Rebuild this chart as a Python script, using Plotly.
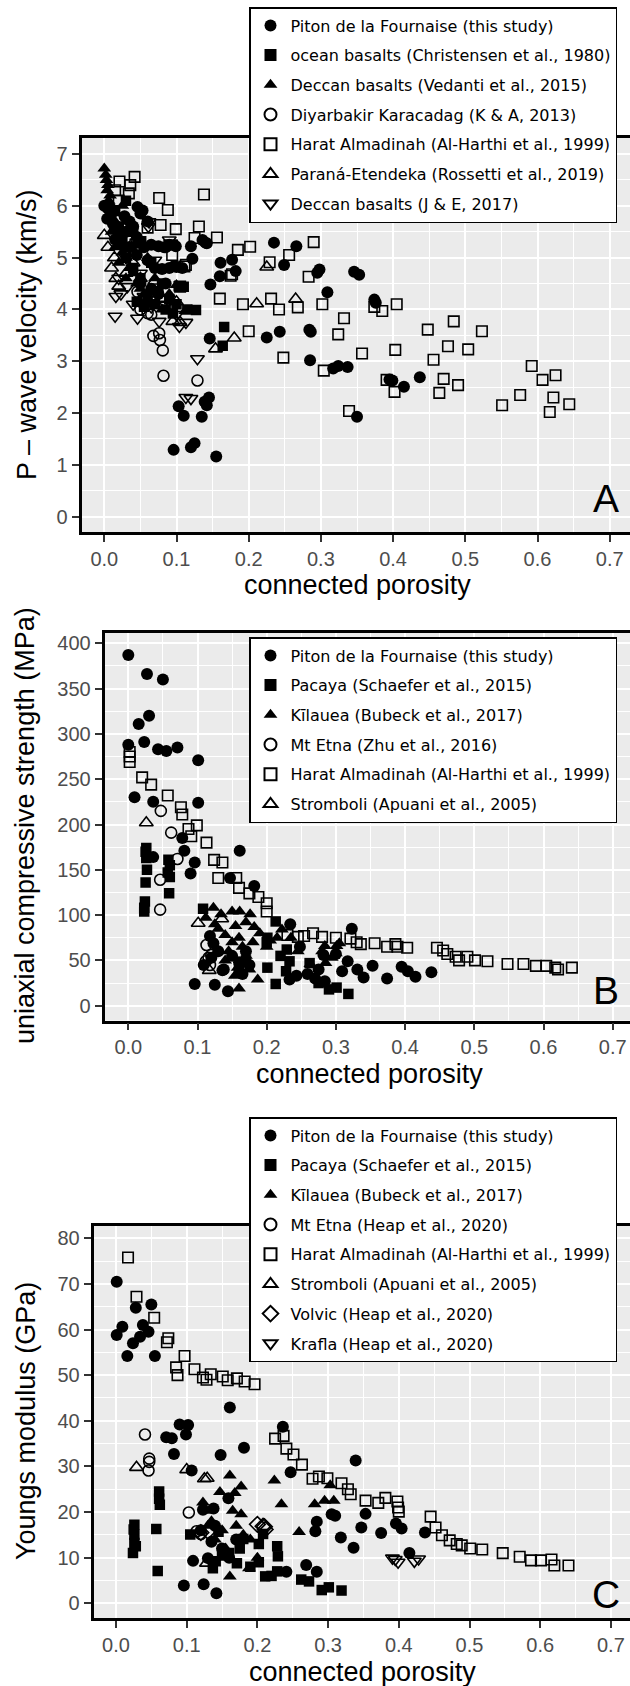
import plotly.graph_objects as go

W, H = 630, 1686

# ---------------- Panel A : P-wave velocity ----------------
A_PITON_X = [0.235, 0.266, 0.249, 0.142, 0.136, 0.140, 0.120, 0.099, 0.122, 0.161, 0.177, 0.182, 0.160, 0.147, 0.298,
             0.295, 0.346, 0.353, 0.309, 0.374, 0.376, 0.284, 0.286, 0.243, 0.225, 0.146, 0.285, 0.317, 0.324, 0.337,
             0.395, 0.399, 0.415, 0.437, 0.350, 0.103, 0.110, 0.135, 0.139, 0.145, 0.142, 0.096, 0.120, 0.125, 0.155,
             0.053, 0.046, 0.050, 0.060, 0.000, 0.005, 0.010, 0.004, 0.012, 0.020, 0.028, 0.035, 0.030, 0.040, 0.045,
             0.015, 0.025, 0.035, 0.055, 0.065, 0.075, 0.085, 0.090, 0.083, 0.070, 0.080, 0.090, 0.100, 0.060, 0.045,
             0.097, 0.108, 0.050, 0.065, 0.075, 0.085]
A_PITON_Y = [5.29, 5.22, 4.86, 5.28, 5.34, 5.29, 5.22, 5.22, 4.98, 4.90, 4.96, 4.74, 4.64, 4.48, 4.77,
             4.71, 4.73, 4.67, 4.33, 4.19, 4.13, 3.61, 3.57, 3.57, 3.46, 3.44, 3.02, 2.86, 2.91, 2.89,
             2.65, 2.63, 2.51, 2.69, 1.93, 2.13, 1.95, 1.93, 2.22, 2.30, 2.15, 1.29, 1.34, 1.42, 1.16,
             5.91, 5.98, 5.85, 5.70, 6.00, 5.95, 5.85, 5.75, 5.65, 5.55, 5.80, 5.70, 5.50, 5.60, 5.40,
             5.35, 5.25, 5.20, 5.20, 5.25, 5.22, 5.20, 5.25, 5.20, 4.80, 4.78, 4.80, 4.82, 4.95, 5.05,
             4.84, 4.80, 4.50, 4.40, 4.30, 4.50]

A_OCEAN_X = [0.166, 0.164, 0.127, 0.103, 0.110, 0.095, 0.085, 0.070, 0.060, 0.075, 0.090, 0.100, 0.115, 0.050,
             0.040, 0.030, 0.020, 0.025, 0.015, 0.030, 0.040, 0.050, 0.065, 0.080, 0.055, 0.045]
A_OCEAN_Y = [3.66, 3.30, 3.99, 4.45, 4.44, 3.92, 4.00, 4.10, 4.20, 4.35, 4.20, 4.10, 4.00, 4.60,
             4.80, 5.00, 5.60, 5.40, 5.90, 6.10, 5.50, 5.30, 4.90, 4.50, 4.05, 4.15]

A_DECCAN_V_X = [0.000, 0.002, 0.003, 0.005, 0.004, 0.008, 0.006, 0.010, 0.012, 0.008, 0.015, 0.018, 0.010, 0.020,
                0.022, 0.015, 0.025, 0.030, 0.020, 0.035, 0.040, 0.030, 0.045, 0.050, 0.055, 0.060, 0.070, 0.080,
                0.100, 0.112, 0.045, 0.060, 0.070, 0.090, 0.025, 0.030]
A_DECCAN_V_Y = [6.72, 6.60, 6.50, 6.40, 6.30, 6.20, 6.10, 6.00, 5.90, 5.80, 5.70, 5.60, 5.50, 5.45,
                5.30, 5.20, 5.10, 5.00, 4.90, 4.80, 4.70, 4.60, 4.50, 4.40, 4.30, 4.20, 4.10, 4.00,
                4.47, 3.97, 5.30, 5.00, 4.60, 4.30, 6.00, 5.70]

A_DIYAR_X = [0.068, 0.076, 0.077, 0.081, 0.082, 0.129, 0.060, 0.046, 0.055, 0.065, 0.050]
A_DIYAR_Y = [3.49, 3.54, 3.41, 3.21, 2.72, 2.63, 3.93, 4.34, 4.10, 3.90, 4.00]

A_HARAT_X = [0.021, 0.036, 0.042, 0.034, 0.076, 0.088, 0.138, 0.078, 0.099, 0.131,
             0.125, 0.156, 0.185, 0.202, 0.229, 0.256, 0.290, 0.094, 0.111, 0.177,
             0.160, 0.192, 0.231, 0.242, 0.268, 0.302, 0.283, 0.200, 0.248, 0.304,
             0.324, 0.332, 0.357, 0.374, 0.385, 0.405, 0.403, 0.391, 0.402, 0.339,
             0.448, 0.456, 0.476, 0.484, 0.504, 0.523, 0.470, 0.464, 0.490, 0.551,
             0.576, 0.592, 0.607, 0.625, 0.622, 0.617, 0.644, 0.060, 0.175, 0.113,
             0.105, 0.015, 0.020, 0.050]
A_HARAT_Y = [6.47, 6.40, 6.56, 6.24, 6.15, 5.92, 6.22, 5.63, 5.55, 5.60,
             5.38, 5.39, 5.15, 5.21, 4.91, 5.05, 5.30, 5.05, 4.83, 4.68,
             4.21, 4.10, 4.21, 4.00, 4.04, 4.10, 4.63, 3.58, 3.07, 2.82,
             3.52, 3.83, 3.15, 4.05, 3.97, 4.10, 3.22, 2.64, 2.41, 2.04,
             3.61, 3.03, 3.29, 3.77, 3.23, 3.58, 2.66, 2.39, 2.54, 2.15,
             2.35, 2.91, 2.64, 2.73, 2.30, 2.02, 2.17, 5.58, 4.65, 4.86,
             4.44, 6.30, 6.10, 5.30]

A_PARANA_X = [0.225, 0.211, 0.265, 0.180, 0.154, 0.000, 0.016, 0.014, 0.010, 0.020, 0.030, 0.040, 0.005, 0.050,
              0.095, 0.105, 0.060, 0.070, 0.035, 0.080, 0.100]
A_PARANA_Y = [4.82, 4.11, 4.20, 3.45, 3.24, 5.43, 4.60, 5.00, 4.80, 4.45, 4.70, 4.90, 5.20, 4.60,
              3.77, 3.75, 4.30, 4.55, 5.20, 4.20, 4.15]

A_DECCAN_JE_X = [0.016, 0.023, 0.015, 0.046, 0.032, 0.076, 0.104, 0.113, 0.129, 0.113, 0.120, 0.062, 0.061,
                 0.090, 0.092, 0.040, 0.055, 0.065, 0.085, 0.030, 0.050, 0.070, 0.095, 0.100, 0.020, 0.045]
A_DECCAN_JE_Y = [4.25, 4.30, 3.87, 3.83, 4.44, 3.77, 3.67, 3.75, 3.05, 2.30, 2.28, 5.69, 5.60,
                 5.34, 5.28, 4.10, 4.25, 4.05, 4.10, 5.00, 4.70, 4.95, 4.05, 3.90, 4.60, 5.30]

# ---------------- Panel B : UCS ----------------
B_PITON_X = [0.000, 0.027, 0.050, 0.030, 0.015, 0.000, 0.023, 0.043, 0.055, 0.071,
             0.101, 0.009, 0.036, 0.101, 0.078, 0.081, 0.036, 0.096, 0.090, 0.161,
             0.147, 0.182, 0.234, 0.248, 0.243, 0.233, 0.284, 0.282, 0.300, 0.317,
             0.309, 0.323, 0.331, 0.340, 0.353, 0.374, 0.395, 0.404, 0.415, 0.438,
             0.259, 0.096, 0.125, 0.144, 0.109, 0.118, 0.138, 0.123, 0.136, 0.130,
             0.150, 0.160, 0.170, 0.165, 0.175, 0.270, 0.275, 0.120]
B_PITON_Y = [387, 366, 360, 320, 311, 288, 291, 283, 281, 285,
             271, 230, 225, 224, 185, 171, 164, 158, 146, 171,
             141, 132, 90, 65, 33, 29, 27, 56, 57, 49,
             38, 85, 40, 31, 44, 30, 43, 38, 32, 37,
             35, 24, 23, 16, 45, 77, 40, 69, 39, 60,
             55, 48, 60, 35, 45, 30, 40, 53]

B_PACAYA_X = [0.026, 0.025, 0.026, 0.027, 0.025, 0.024, 0.023, 0.023, 0.058, 0.060, 0.057, 0.060, 0.059, 0.108,
              0.213, 0.201, 0.229, 0.233, 0.228, 0.201, 0.213, 0.262, 0.290, 0.301, 0.318, 0.200, 0.170, 0.160,
              0.220, 0.275]
B_PACAYA_Y = [174, 170, 163, 150, 136, 115, 108, 104, 161, 155, 147, 142, 124, 107,
              93, 75, 62, 49, 38, 42, 24, 47, 18, 20, 13, 70, 50, 40,
              55, 25]

B_KILAUEA_X = [0.123, 0.112, 0.134, 0.150, 0.161, 0.176, 0.170, 0.182, 0.222, 0.215,
               0.158, 0.154, 0.160, 0.187, 0.263, 0.284, 0.301, 0.305, 0.294, 0.285,
               0.130, 0.140, 0.150, 0.145, 0.160, 0.165, 0.170, 0.180, 0.175, 0.200,
               0.190, 0.140, 0.125, 0.155, 0.205, 0.235, 0.245, 0.280, 0.300]
B_KILAUEA_Y = [108, 97, 101, 104, 104, 101, 92, 87, 84, 75,
               42, 33, 19, 29, 46, 66, 66, 69, 53, 47,
               85, 78, 70, 60, 75, 65, 55, 70, 40, 65,
               80, 50, 90, 88, 72, 75, 60, 60, 58]

B_ETNA_X = [0.047, 0.062, 0.071, 0.046, 0.046, 0.113, 0.116, 0.118, 0.112, 0.120]
B_ETNA_Y = [215, 191, 162, 139, 106, 67, 53, 45, 49, 56]

B_HARAT_X = [0.002, 0.002, 0.002, 0.020, 0.033, 0.057, 0.076, 0.078, 0.087, 0.091,
             0.099, 0.113, 0.124, 0.136, 0.130, 0.156, 0.160, 0.175, 0.188, 0.200,
             0.200, 0.230, 0.245, 0.254, 0.267, 0.280, 0.300, 0.321, 0.330, 0.336,
             0.356, 0.374, 0.386, 0.389, 0.403, 0.446, 0.455, 0.461, 0.473, 0.478,
             0.490, 0.501, 0.519, 0.548, 0.571, 0.589, 0.604, 0.617, 0.621, 0.641]
B_HARAT_Y = [280, 275, 269, 252, 244, 232, 219, 211, 195, 187,
             199, 180, 161, 158, 141, 141, 130, 124, 120, 113,
             104, 78, 76, 77, 80, 76, 75, 74, 70, 68,
             69, 65, 68, 65, 64, 64, 61, 57, 54, 50,
             54, 50, 49, 46, 46, 44, 44, 42, 40, 42]

B_STROMBOLI_X = [0.026, 0.101, 0.135, 0.117]
B_STROMBOLI_Y = [202, 91, 96, 39]

# ---------------- Panel C : Young's modulus ----------------
C_PITON_X = [0.001, 0.009, 0.001, 0.028, 0.050, 0.038, 0.046, 0.034, 0.024, 0.016,
             0.055, 0.161, 0.090, 0.102, 0.099, 0.071, 0.079, 0.181, 0.148, 0.082,
             0.107, 0.236, 0.247, 0.138, 0.123, 0.159, 0.109, 0.096, 0.124, 0.142,
             0.130, 0.269, 0.284, 0.241, 0.284, 0.282, 0.305, 0.310, 0.318, 0.336,
             0.339, 0.347, 0.353, 0.375, 0.396, 0.404, 0.415, 0.437, 0.135, 0.150,
             0.140, 0.160, 0.170, 0.120]
C_PITON_Y = [70.5, 60.6, 58.8, 64.8, 65.5, 61.0, 59.5, 58.4, 57.0, 54.2,
             54.2, 42.9, 39.2, 39.1, 37.0, 36.4, 36.2, 34.1, 32.5, 32.7,
             29.1, 38.7, 28.7, 20.8, 20.5, 23.0, 9.3, 3.9, 4.2, 2.2,
             9.9, 8.4, 6.9, 6.9, 17.9, 15.8, 19.5, 19.2, 14.4, 12.2,
             31.3, 16.6, 19.6, 15.4, 17.5, 16.4, 11.0, 15.5, 13.5, 12.0,
             17.0, 10.0, 14.0, 16.0]

C_PACAYA_X = [0.026, 0.026, 0.026, 0.028, 0.024, 0.025, 0.061, 0.061, 0.062, 0.057,
              0.059, 0.105, 0.141, 0.137, 0.171, 0.180, 0.202, 0.202, 0.211, 0.228,
              0.229, 0.228, 0.262, 0.273, 0.291, 0.301, 0.319, 0.208, 0.145, 0.160,
              0.175, 0.220, 0.150, 0.190]
C_PACAYA_Y = [17.2, 15.0, 13.2, 12.5, 11.0, 16.2, 24.5, 22.9, 21.6, 16.3,
              7.1, 15.1, 9.2, 7.7, 8.8, 14.1, 13.0, 9.0, 5.9, 12.5,
              10.3, 7.0, 5.2, 4.8, 2.9, 3.5, 2.8, 15.2, 15.7, 11.0,
              12.0, 6.0, 10.5, 8.0]

C_KILAUEA_X = [0.161, 0.177, 0.147, 0.168, 0.224, 0.234, 0.123, 0.281, 0.295, 0.308, 0.303, 0.259, 0.161,
               0.188, 0.165, 0.177, 0.128, 0.135, 0.150, 0.170, 0.180, 0.190, 0.140, 0.200, 0.155, 0.130]
C_KILAUEA_Y = [28.0, 25.6, 24.4, 24.2, 26.9, 21.7, 22.1, 21.7, 22.5, 22.5, 25.9, 15.6, 5.9,
               7.7, 20.3, 19.5, 20.3, 18.0, 16.0, 17.0, 15.0, 14.0, 14.0, 10.0, 12.0, 17.0]

C_ETNA_X = [0.041, 0.047, 0.047, 0.046, 0.103, 0.114, 0.120]
C_ETNA_Y = [37.0, 31.7, 31.0, 29.1, 19.9, 15.8, 15.2]

C_HARAT_X = [0.017, 0.029, 0.054, 0.074, 0.072, 0.097, 0.085, 0.087, 0.111, 0.123,
             0.128, 0.134, 0.151, 0.158, 0.171, 0.182, 0.196, 0.225, 0.237, 0.241,
             0.251, 0.263, 0.278, 0.287, 0.299, 0.319, 0.328, 0.332, 0.353, 0.371,
             0.381, 0.398, 0.399, 0.400, 0.445, 0.452, 0.461, 0.472, 0.482, 0.489,
             0.501, 0.518, 0.547, 0.571, 0.587, 0.601, 0.616, 0.620, 0.640]
C_HARAT_Y = [75.8, 67.2, 62.6, 58.1, 57.2, 54.2, 51.7, 50.0, 51.3, 49.5,
             49.0, 50.2, 49.7, 48.9, 49.3, 48.6, 48.0, 36.1, 36.7, 33.9,
             32.6, 30.4, 27.3, 27.8, 27.4, 26.3, 25.0, 23.9, 22.5, 22.0,
             23.1, 22.3, 21.0, 20.1, 19.0, 16.6, 14.9, 13.8, 13.0, 12.7,
             12.0, 11.8, 11.0, 10.2, 9.4, 9.4, 9.6, 8.3, 8.3]

C_STROMBOLI_X = [0.029, 0.100, 0.125, 0.129, 0.128]
C_STROMBOLI_Y = [29.8, 29.3, 27.3, 27.4, 8.8]
C_VOLVIC_X = [0.200, 0.208, 0.211, 0.120, 0.130, 0.210]
C_VOLVIC_Y = [17.3, 16.9, 16.2, 15.5, 15.8, 16.8]
C_KRAFLA_X = [0.391, 0.395, 0.399, 0.422, 0.428]
C_KRAFLA_Y = [9.9, 9.6, 9.0, 9.2, 9.7]

X_TICKS = [0.0, 0.1, 0.2, 0.3, 0.4, 0.5, 0.6, 0.7]
X_TICK_TEXT = ["0.0", "0.1", "0.2", "0.3", "0.4", "0.5", "0.6", "0.7"]

# ---------------- styling / layout helpers ----------------
SYM = {
    "fc": ("circle", 12, 0), "fs": ("square", 10.5, 0), "ft": ("triangle-up", 12, 0),
    "oc": ("circle-open", 11, 1.6), "os": ("square-open", 10.5, 1.6), "ot": ("triangle-up-open", 12, 1.6),
    "od": ("triangle-down-open", 12, 1.6), "odm": ("diamond-open", 12, 1.6),
}

fig = go.Figure()


def add(xs, ys, name, key, panel, legend):
    sym, size, lw = SYM[key]
    fig.add_trace(go.Scatter(
        x=xs, y=ys, mode="markers", name=name,
        marker=dict(symbol=sym, size=size, color="black", line=dict(width=lw, color="black")),
        xaxis="x" if panel == 1 else "x%d" % panel,
        yaxis="y" if panel == 1 else "y%d" % panel,
        legend=legend, legendgroup="%s_%s" % (legend, name),
    ))


add(A_PITON_X, A_PITON_Y, "Piton de la Fournaise (this study)", "fc", 1, "legend")
add(A_OCEAN_X, A_OCEAN_Y, "ocean basalts (Christensen et al., 1980)", "fs", 1, "legend")
add(A_DECCAN_V_X, A_DECCAN_V_Y, "Deccan basalts (Vedanti et al., 2015)", "ft", 1, "legend")
add(A_DIYAR_X, A_DIYAR_Y, "Diyarbakir Karacadag (K & A, 2013)", "oc", 1, "legend")
add(A_HARAT_X, A_HARAT_Y, "Harat Almadinah (Al-Harthi et al., 1999)", "os", 1, "legend")
add(A_PARANA_X, A_PARANA_Y, "Paraná-Etendeka (Rossetti et al., 2019)", "ot", 1, "legend")
add(A_DECCAN_JE_X, A_DECCAN_JE_Y, "Deccan basalts (J & E, 2017)", "od", 1, "legend")

add(B_PITON_X, B_PITON_Y, "Piton de la Fournaise (this study)", "fc", 2, "legend2")
add(B_PACAYA_X, B_PACAYA_Y, "Pacaya (Schaefer et al., 2015)", "fs", 2, "legend2")
add(B_KILAUEA_X, B_KILAUEA_Y, "Kīlauea (Bubeck et al., 2017)", "ft", 2, "legend2")
add(B_ETNA_X, B_ETNA_Y, "Mt Etna (Zhu et al., 2016)", "oc", 2, "legend2")
add(B_HARAT_X, B_HARAT_Y, "Harat Almadinah (Al-Harthi et al., 1999)", "os", 2, "legend2")
add(B_STROMBOLI_X, B_STROMBOLI_Y, "Stromboli (Apuani et al., 2005)", "ot", 2, "legend2")

add(C_PITON_X, C_PITON_Y, "Piton de la Fournaise (this study)", "fc", 3, "legend3")
add(C_PACAYA_X, C_PACAYA_Y, "Pacaya (Schaefer et al., 2015)", "fs", 3, "legend3")
add(C_KILAUEA_X, C_KILAUEA_Y, "Kīlauea (Bubeck et al., 2017)", "ft", 3, "legend3")
add(C_ETNA_X, C_ETNA_Y, "Mt Etna (Heap et al., 2020)", "oc", 3, "legend3")
add(C_HARAT_X, C_HARAT_Y, "Harat Almadinah (Al-Harthi et al., 1999)", "os", 3, "legend3")
add(C_STROMBOLI_X, C_STROMBOLI_Y, "Stromboli (Apuani et al., 2005)", "ot", 3, "legend3")
add(C_VOLVIC_X, C_VOLVIC_Y, "Volvic (Heap et al., 2020)", "odm", 3, "legend3")
add(C_KRAFLA_X, C_KRAFLA_Y, "Krafla (Heap et al., 2020)", "od", 3, "legend3")

# pixel geometry of each panel: (left, top, bottom, x0px, px per unit x, y0px, px per unit y)
PANELS = {
    1: dict(left=81.5, top=138.0, bottom=532.0, x0=104.3, sx=722.0, y0=516.7, sy=51.81, dtick=1, minor=0.5),
    2: dict(left=104.5, top=632.5, bottom=1020.5, x0=128.3, sx=692.0, y0=1005.7, sy=0.906, dtick=50, minor=25),
    3: dict(left=93.5, top=1225.5, bottom=1618.0, x0=116.0, sx=707.0, y0=1603.3, sy=4.5625, dtick=10, minor=5),
}

tickfont = dict(family="Liberation Sans, Arial, sans-serif", size=20, color="#4D4D4D")
layout = dict(
    width=W, height=H, margin=dict(l=0, r=0, t=0, b=0, autoexpand=False),
    paper_bgcolor="white", plot_bgcolor="#EBEBEB", showlegend=True,
)
for p, g in PANELS.items():
    sfx = "" if p == 1 else str(p)
    xr = [(g["left"] - g["x0"]) / g["sx"], (W - g["x0"]) / g["sx"]]
    yr = [(g["y0"] - g["bottom"]) / g["sy"], (g["y0"] - g["top"]) / g["sy"]]
    layout["xaxis" + sfx] = dict(
        domain=[g["left"] / W, 1.0], range=xr, anchor="y" + sfx,
        tickvals=X_TICKS, ticktext=X_TICK_TEXT, tickfont=tickfont,
        showgrid=True, gridcolor="white", gridwidth=1.8,
        minor=dict(dtick=0.05, tick0=0, showgrid=True, gridcolor="white", gridwidth=0.9),
        zeroline=False, showline=True, linewidth=2.6, linecolor="black", mirror=True,
        ticks="outside", ticklen=7, tickwidth=1.6, tickcolor="#333333",
    )
    layout["yaxis" + sfx] = dict(
        domain=[1 - g["bottom"] / H, 1 - g["top"] / H], range=yr, anchor="x" + sfx,
        dtick=g["dtick"], tick0=0, tickfont=tickfont,
        showgrid=True, gridcolor="white", gridwidth=1.8,
        minor=dict(dtick=g["minor"], tick0=0, showgrid=True, gridcolor="white", gridwidth=0.9),
        zeroline=False, showline=True, linewidth=2.6, linecolor="black", mirror=False,
        ticks="outside", ticklen=7, tickwidth=1.6, tickcolor="#333333",
    )

legfont = dict(family="DejaVu Sans, Verdana, sans-serif", size=16, color="black")
for name, top in (("legend", 7), ("legend2", 637), ("legend3", 1117)):
    layout[name] = dict(
        x=249 / W, y=1 - top / H, xanchor="left", yanchor="top",
        bgcolor="white", bordercolor="black", borderwidth=1.5,
        font=legfont, tracegroupgap=5.9, itemsizing="constant", traceorder="grouped",
    )

titlefont = dict(family="Liberation Sans, Arial, sans-serif", size=27, color="black")
annotations = []
# x-axis titles (centre x px, centre y px)
for cx, cy in ((357, 585), (369, 1074), (363, 1672)):
    annotations.append(dict(text="connected porosity", x=cx / W, y=1 - cy / H, xref="paper", yref="paper",
                            xanchor="center", yanchor="middle", showarrow=False, font=titlefont))
# y-axis titles
for txt, cx, cy in (("P – wave velocity (km/s)", 27, 335),
                    ("uniaxial compressive strength (MPa)", 25, 826),
                    ("Youngs modulus (GPa)", 26, 1421)):
    annotations.append(dict(text=txt, x=cx / W, y=1 - cy / H, xref="paper", yref="paper", textangle=-90,
                            xanchor="center", yanchor="middle", showarrow=False, font=titlefont))
# panel letters
for txt, cx, cy in (("A", 606, 498), ("B", 606, 990), ("C", 606, 1594)):
    annotations.append(dict(text=txt, x=cx / W, y=1 - cy / H, xref="paper", yref="paper",
                            xanchor="center", yanchor="middle", showarrow=False,
                            font=dict(family="Liberation Sans, Arial, sans-serif", size=39, color="black")))
layout["annotations"] = annotations

fig.update_layout(**layout)
fig.write_html("out.html", config={"displayModeBar": False},
               post_script="document.body.style.margin='0';document.body.style.overflow='hidden';")
